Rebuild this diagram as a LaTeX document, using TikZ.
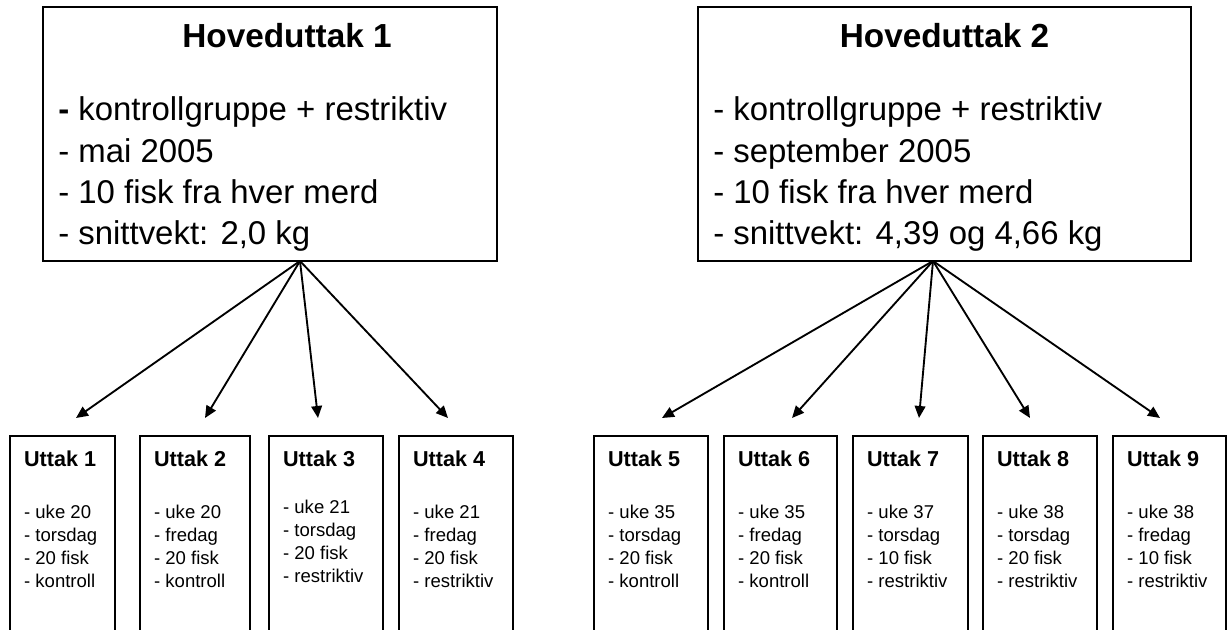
\documentclass[tikz,border=0pt]{standalone}
\usepackage{fontspec}
\setmainfont{Liberation Sans}
\usetikzlibrary{arrows.meta}
\begin{document}
\begin{tikzpicture}[x=0.75pt,y=-0.75pt,
  box/.style={draw=black,line width=1.2pt,inner sep=0pt,rectangle},
  bigtitle/.style={font=\fontsize{25}{30}\selectfont\bfseries,inner sep=0pt,anchor=base},
  bigtext/.style={font=\fontsize{24.7}{30}\selectfont,inner sep=0pt,anchor=base west},
  smalltitle/.style={font=\fontsize{16.2}{19}\selectfont\bfseries,inner sep=0pt,anchor=base west},
  smalltext/.style={font=\fontsize{13.9}{16}\selectfont,inner sep=0pt,anchor=base west},
  arr/.style={line width=1.4pt,-{Triangle[length=9pt,width=8pt]}}]
\path[use as bounding box] (0,0) rectangle (1228,630);
\clip (0,0) rectangle (1228,630);
% top boxes
\node[box,minimum width=340.5pt,minimum height=190.5pt] (h1) at (270,134) {};
\node[box,minimum width=369.75pt,minimum height=190.5pt] (h2) at (944.5,134) {};
\node[bigtitle] (h1t) at (287,48) {Hoveduttak 1};
\node[bigtitle] (h2t) at (944.5,48) {Hoveduttak 2};
\node[bigtext] (h1a) at (58,121) {{\bfseries -} kontrollgruppe + restriktiv};
\node[bigtext] (h1b) at (58,163) {- mai 2005};
\node[bigtext] (h1c) at (58,204) {- 10 fisk fra hver merd};
\node[bigtext] (h1d) at (58,245) {- snittvekt: 2,0 kg};
\node[bigtext] (h2a) at (713,121) {- kontrollgruppe + restriktiv};
\node[bigtext] (h2b) at (713,163) {- september 2005};
\node[bigtext] (h2c) at (713,204) {- 10 fisk fra hver merd};
\node[bigtext] (h2d) at (713,245) {- snittvekt: 4,39 og 4,66 kg};
% bottom boxes (open at the bottom edge of the picture)
\foreach \n/\c/\w/\dy/\a/\b/\cc/\d in {
  1/62.5/78.75/0/uke 20/torsdag/20 fisk/kontroll,
  2/195/82.5/0/uke 20/fredag/20 fisk/kontroll,
  3/326/85.5/-5/uke 21/torsdag/20 fisk/restriktiv,
  4/456/85.5/0/uke 21/fredag/20 fisk/restriktiv,
  5/651/85.5/0/uke 35/torsdag/20 fisk/kontroll,
  6/780.5/84.75/0/uke 35/fredag/20 fisk/kontroll,
  7/910.5/86.25/0/uke 37/torsdag/10 fisk/restriktiv,
  8/1040/85.5/0/uke 38/torsdag/20 fisk/restriktiv,
  9/1169.5/84.75/0/uke 38/fredag/10 fisk/restriktiv}{
  \node[box,minimum width=\w pt,minimum height=168pt] (u\n) at (\c,548) {};
  \node[smalltitle] (u\n t) at ([xshift=11pt]u\n.north west |- 0,467) {Uttak \n};
  \node[smalltext] (u\n a) at ([xshift=11pt]u\n.north west |- 0,519+\dy) {- \a};
  \node[smalltext] (u\n b) at ([xshift=11pt]u\n.north west |- 0,541.7+\dy) {- \b};
  \node[smalltext] (u\n c) at ([xshift=11pt]u\n.north west |- 0,564.3+\dy) {- \cc};
  \node[smalltext] (u\n d) at ([xshift=11pt]u\n.north west |- 0,587+\dy) {- \d};
}
% arrow origins and tips
\coordinate (o1) at (300,261);
\coordinate (o2) at (933,261);
\coordinate (t1) at (76,418);
\coordinate (t2) at (205,418);
\coordinate (t3) at (318,418);
\coordinate (t4) at (448,418);
\coordinate (t5) at (662,418);
\coordinate (t6) at (792,418);
\coordinate (t7) at (919,418);
\coordinate (t8) at (1030,418);
\coordinate (t9) at (1160,418);
\foreach \i in {1,2,3,4} \draw[arr] (o1) -- (t\i);
\foreach \i in {5,6,7,8,9} \draw[arr] (o2) -- (t\i);
\end{tikzpicture}
\end{document}
